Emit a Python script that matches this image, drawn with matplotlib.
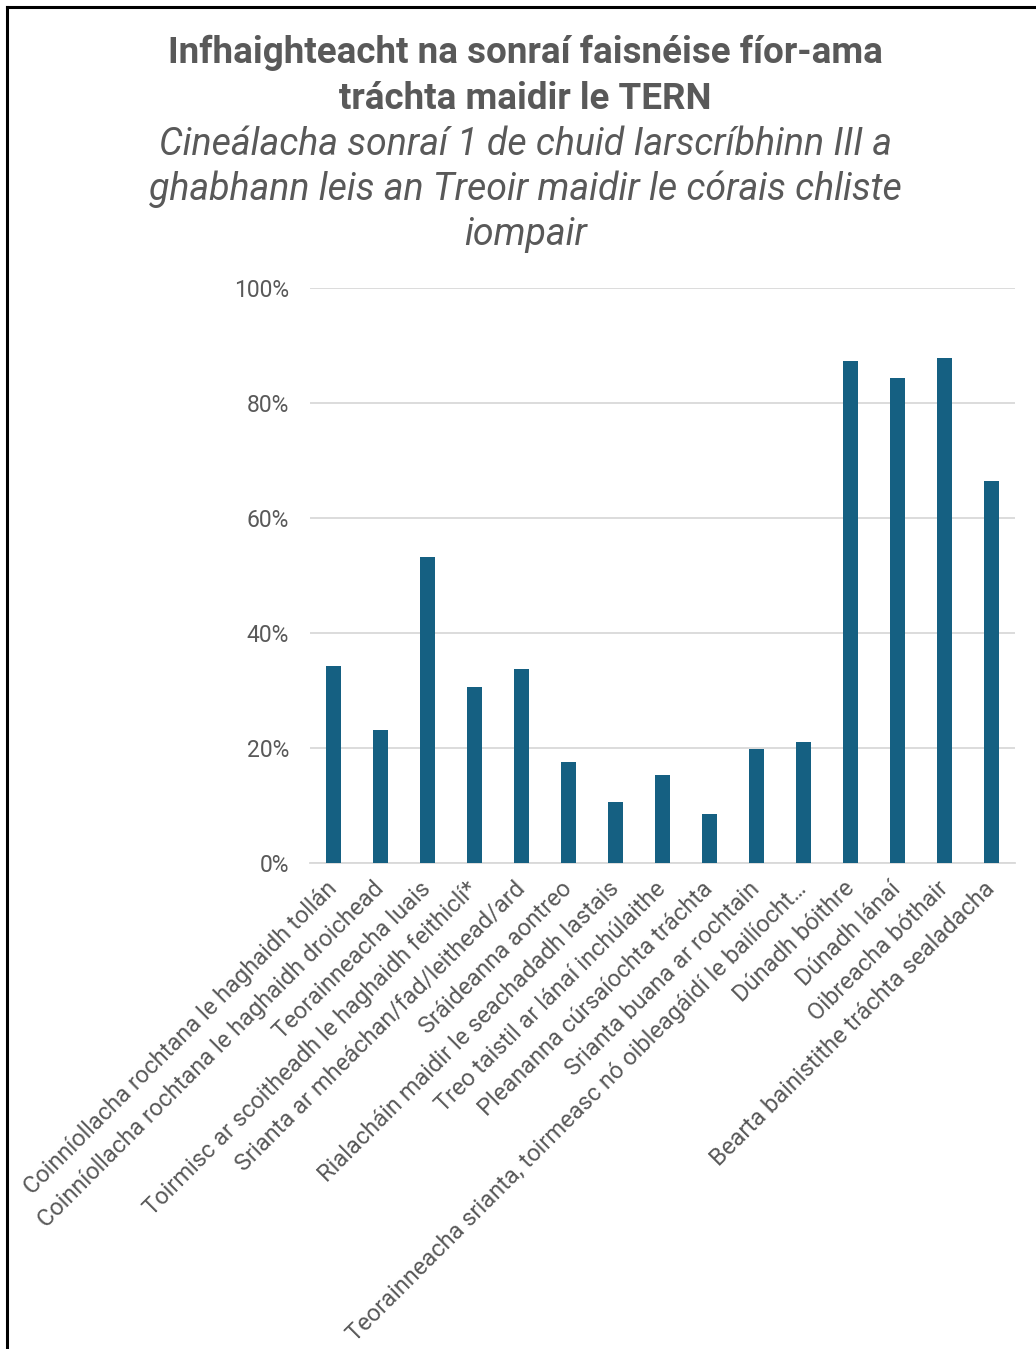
import matplotlib.pyplot as plt
from matplotlib.ticker import FuncFormatter
from matplotlib.lines import Line2D

plt.rcParams['font.family'] = ['Roboto', 'DejaVu Sans']

categories = [
    "Coinníollacha rochtana le haghaidh tollán",
    "Coinníollacha rochtana le haghaidh droichead",
    "Teorainneacha luais",
    "Toirmisc ar scoitheadh le haghaidh feithiclí*",
    "Srianta ar mheáchan/fad/leithead/ard",
    "Sráideanna aontreo",
    "Rialacháin maidir le seachadadh lastais",
    "Treo taistil ar lánaí inchúlaithe",
    "Pleananna cúrsaíochta tráchta",
    "Srianta buana ar rochtain",
    "Teorainneacha srianta, toirmeasc nó oibleagáidí le bailíocht…",
    "Dúnadh bóithre",
    "Dúnadh lánaí",
    "Oibreacha bóthair",
    "Bearta bainistithe tráchta sealadacha",
]
values = [34.3, 23.1, 53.3, 30.6, 33.7, 17.6, 10.6, 15.3, 8.5, 19.9, 21.0, 87.3, 84.4, 87.8, 66.4]
yticks = [0, 20, 40, 60, 80, 100]

TXT = "#595959"
BAR = "#156082"
W, H = 1036, 1349

fig = plt.figure(figsize=(W / 100, H / 100), dpi=100)
ax = fig.add_axes([310 / W, 1 - 863 / H, 705 / W, 575 / H])

x = range(len(values))
ax.bar(x, values, width=0.31, color=BAR, zorder=3)

ax.set_xlim(-0.5, len(values) - 0.5)
ax.set_ylim(0, 100)
ax.set_yticks(yticks)
ax.yaxis.set_major_formatter(FuncFormatter(lambda v, p: f"{v:.0f}%"))
ax.grid(axis="y", color="#D9D9D9", linewidth=1.3, zorder=0)
for s in ["top", "right", "left"]:
    ax.spines[s].set_visible(False)
ax.spines["bottom"].set_color("#D9D9D9")
ax.spines["bottom"].set_linewidth(1.3)
ax.tick_params(axis="y", length=0, pad=15, labelsize=16.5, labelcolor=TXT)
ax.tick_params(axis="x", length=0, pad=16)
ax.set_xticks(list(x))
ax.set_xticklabels(categories, rotation=45, ha="right", va="center",
                   rotation_mode="anchor", fontsize=17, color=TXT)

fig.text(0.507, 1 - 35 / H, "Infhaighteacht na sonraí faisnéise fíor-ama\ntráchta maidir le TERN",
         ha="center", va="top", fontsize=26.5, fontweight="bold", color=TXT,
         linespacing=1.36)

fig.text(0.507, 1 - 126 / H,
         "Cineálacha sonraí 1 de chuid Iarscríbhinn III a\nghabhann leis an Treoir maidir le córais chliste\niompair",
         ha="center", va="top", fontsize=27, style="italic", color=TXT,
         linespacing=1.27)

# frame visible at the top and left of the picture
fig.add_artist(Line2D([7 / W, 7 / W], [0, 1 - 7 / H], color="black", linewidth=2.2))
fig.add_artist(Line2D([7 / W, 1], [1 - 7 / H, 1 - 7 / H], color="black", linewidth=2.2))

fig.savefig("out.png", dpi=100, facecolor="white")
